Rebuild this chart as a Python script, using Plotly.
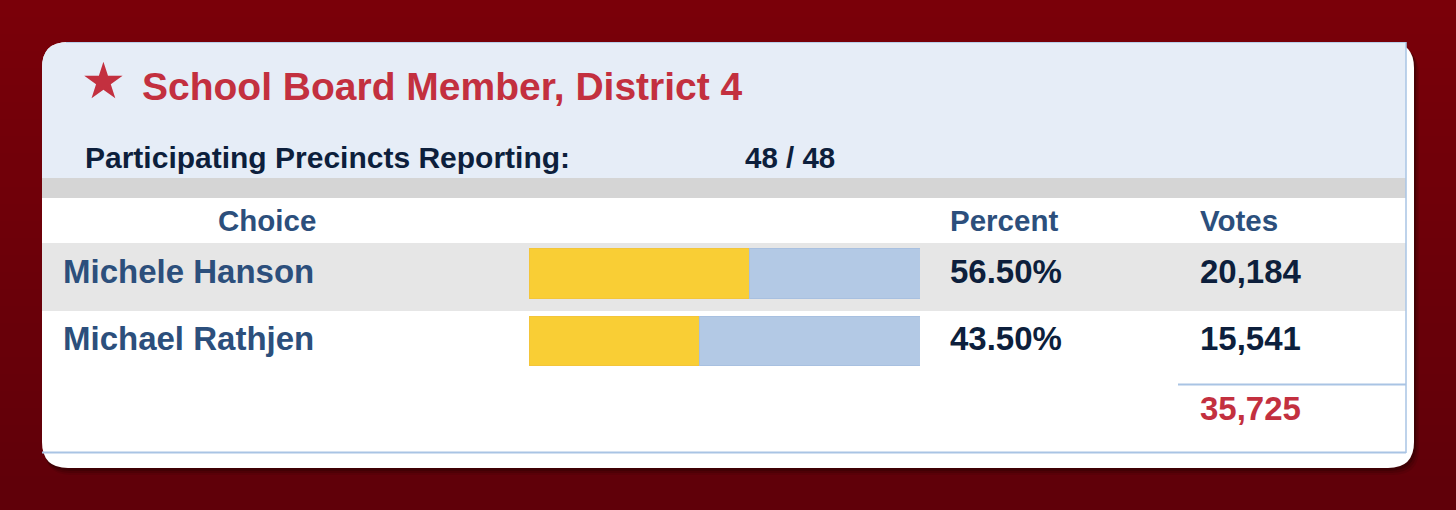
import plotly.graph_objects as go

# data
race_title = "School Board Member, District 4"
precincts_reporting = 48
precincts_total = 48
candidates = ["Michele Hanson", "Michael Rathjen"]
votes = [20184, 15541]

total_votes = sum(votes)
percents = [100.0 * v / total_votes for v in votes]

W, H = 1456, 510
FONT = "Liberation Sans, Arial, sans-serif"
NAVY = "#0d1f3c"
BLUE_TXT = "#2c4f7c"
RED_TXT = "#c3303f"
LINE_BLUE = "#a9c4e4"


def rounded_rect(x0, y0, x1, y1, r):
    return (f"M {x0 + r},{y0} L {x1 - r},{y0} Q {x1},{y0} {x1},{y0 + r} "
            f"L {x1},{y1 - r} Q {x1},{y1} {x1 - r},{y1} L {x0 + r},{y1} "
            f"Q {x0},{y1} {x0},{y1 - r} L {x0},{y0 + r} Q {x0},{y0} {x0 + r},{y0} Z")


shapes = []

# background gradient (dark red, getting darker to the bottom)
n = 30
for i in range(n):
    t = i / (n - 1)
    r = int(122 - 26 * t)
    shapes.append(dict(type="rect", xref="x", yref="y", x0=0, x1=W,
                       y0=i * H / n, y1=(i + 1) * H / n + 1,
                       fillcolor=f"rgb({r},0,9)", line_width=0, layer="below"))

# card shadow
for k, op in [(10, 0.10), (7, 0.15), (4, 0.25)]:
    shapes.append(dict(type="path", xref="x", yref="y",
                       path=rounded_rect(42 + k * 0.3, 42 + k * 0.6, 1414 + k * 0.5, 468 + k * 0.7, 26),
                       fillcolor=f"rgba(20,0,0,{op})", line_width=0, layer="below"))

# card
shapes.append(dict(type="path", xref="x", yref="y", path=rounded_rect(42, 42, 1414, 468, 26),
                   fillcolor="white", line_width=0, layer="below"))
# header area
shapes.append(dict(type="path", xref="x", yref="y",
                   path="M 68,42 L 1406,42 L 1406,178 L 42,178 L 42,68 Q 42,42 68,42 Z",
                   fillcolor="#e6edf7", line_width=0, layer="below"))
shapes.append(dict(type="line", xref="x", yref="y", x0=66, x1=1406, y0=42.5, y1=42.5,
                   line=dict(color="#b8cfea", width=1), layer="below"))
# gray band
shapes.append(dict(type="rect", xref="x", yref="y", x0=42, x1=1406, y0=178, y1=198,
                   fillcolor="#d5d5d5", line_width=0, layer="below"))
# first row stripe
shapes.append(dict(type="rect", xref="x", yref="y", x0=42, x1=1406, y0=243, y1=311,
                   fillcolor="#e6e6e6", line_width=0, layer="below"))
# borders
shapes.append(dict(type="line", xref="x", yref="y", x0=1406, x1=1406, y0=42, y1=453,
                   line=dict(color=LINE_BLUE, width=1.5), layer="below"))
shapes.append(dict(type="line", xref="x", yref="y", x0=42, x1=1406, y0=452.5, y1=452.5,
                   line=dict(color=LINE_BLUE, width=2), layer="below"))
shapes.append(dict(type="line", xref="x", yref="y", x0=1178, x1=1406, y0=384.5, y1=384.5,
                   line=dict(color=LINE_BLUE, width=2), layer="below"))

annotations = []


def txt(x, y, s, size, color, anchor="left", family=FONT):
    annotations.append(dict(x=x, y=y, xref="x", yref="y", text=s, showarrow=False,
                            xanchor=anchor, yanchor="middle",
                            font=dict(family=family, size=size, color=color)))


txt(103, 81, "★", 50, RED_TXT, anchor="center", family="DejaVu Sans")
txt(140, 86, f"<b>{race_title}</b>", 39, RED_TXT)
txt(83, 157, "<b>Participating Precincts Reporting:</b>", 30, NAVY)
txt(743, 157, f"<b>{precincts_reporting} / {precincts_total}</b>", 29.5, NAVY)

txt(267, 220, "<b>Choice</b>", 29.5, BLUE_TXT, anchor="center")
txt(948, 220, "<b>Percent</b>", 29.5, BLUE_TXT)
txt(1198, 220, "<b>Votes</b>", 29.5, BLUE_TXT)

row_y = [271, 338]
for name, p, v, y in zip(candidates, percents, votes, row_y):
    txt(61, y, f"<b>{name}</b>", 33, BLUE_TXT)
    txt(948, y, f"<b>{p:.2f}%</b>", 33, NAVY)
    txt(1198, y, f"<b>{v:,}</b>", 33, NAVY)

txt(1198, 408, f"<b>{total_votes:,}</b>", 33, RED_TXT)

# bars on their own axes
bar_top, bar_bot = 239.75, 374.75
fig = go.Figure()
fig.add_trace(go.Bar(y=candidates, x=percents, orientation="h", xaxis="x2", yaxis="y2",
                     marker=dict(color="#f9ce35", line=dict(color="#f3c53a", width=1)),
                     hoverinfo="skip"))
fig.add_trace(go.Bar(y=candidates, x=[100 - p for p in percents], orientation="h",
                     xaxis="x2", yaxis="y2",
                     marker=dict(color="#b3c9e5", line=dict(color="#a8c0e0", width=1)),
                     hoverinfo="skip"))

fig.update_layout(
    width=W, height=H,
    margin=dict(l=0, r=0, t=0, b=0),
    paper_bgcolor="#76000a",
    plot_bgcolor="rgba(0,0,0,0)",
    showlegend=False,
    barmode="stack",
    bargap=0.267,
    xaxis=dict(range=[0, W], visible=False, domain=[0, 1], fixedrange=True),
    yaxis=dict(range=[H, 0], visible=False, domain=[0, 1], fixedrange=True),
    xaxis2=dict(range=[0, 100], visible=False, domain=[529 / W, 920 / W], anchor="y2"),
    yaxis2=dict(type="category", autorange="reversed", visible=False, anchor="x2",
                domain=[1 - bar_bot / H, 1 - bar_top / H]),
    shapes=shapes,
    annotations=annotations,
)

fig.write_html("out.html", config={"displayModeBar": False},
               post_script="document.body.style.margin='0px';document.body.style.overflow='hidden';")
